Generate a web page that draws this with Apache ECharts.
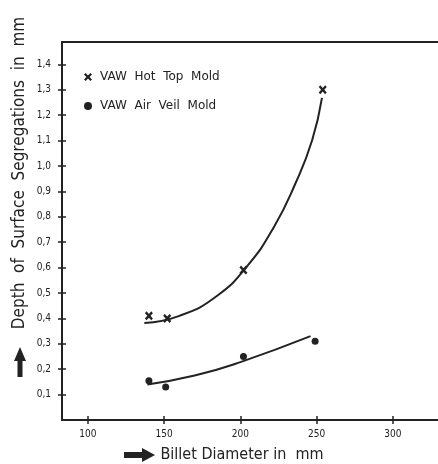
<!DOCTYPE html>
<html>
<head>
<meta charset="utf-8">
<script src="https://cdn.jsdelivr.net/npm/echarts@6/dist/echarts.min.js"></script>
<style>
  html, body {margin: 0; padding: 0; background: #fff;}
  #chart {width: 438px; height: 464px;}
</style>
</head>
<body>
<div id="chart"></div>
<script>
// measured points (billet diameter mm, segregation depth mm)
const hotTopX = [140, 152, 202, 254];
const hotTopY = [0.41, 0.40, 0.59, 1.30];
const airVeilX = [140, 151, 202, 249];
const airVeilY = [0.155, 0.13, 0.25, 0.31];

// hand-drawn fit curves
const hotTopCurveX = [137, 160, 185, 205, 222, 236, 247, 253.5];
const hotTopCurveY = [0.382, 0.41, 0.49, 0.61, 0.76, 0.93, 1.10, 1.268];
const airVeilCurveX = [139, 170, 200, 246];
const airVeilCurveY = [0.14, 0.175, 0.228, 0.33];

const xTicks = [100, 150, 200, 250, 300];
const yTicks = [0.1, 0.2, 0.3, 0.4, 0.5, 0.6, 0.7, 0.8, 0.9, 1.0, 1.1, 1.2, 1.3, 1.4];

const INK = "#222";
const CROSS = "path://M0,2L2,0L5,3L8,0L10,2L7,5L10,8L8,10L5,7L2,10L0,8L3,5Z";
const zip = (xs, ys) => xs.map((x, i) => [x, ys[i]]);

const chart = echarts.init(document.getElementById("chart"));
chart.setOption({
  animation: false,
  textStyle: {fontFamily: "DejaVu Sans", color: INK},
  grid: {left: 62, right: 0, top: 42, bottom: 44},
  legend: {
    orient: "vertical",
    left: 79,
    top: 66,
    itemGap: 17,
    itemWidth: 8,
    itemHeight: 8,
    textStyle: {fontSize: 12, color: INK, fontFamily: "DejaVu Sans", padding: [0, 0, 0, 3]},
    data: [
      {name: "VAW  Hot  Top  Mold", icon: CROSS},
      {name: "VAW  Air  Veil  Mold", icon: "circle"},
    ],
  },
  xAxis: [
    {
      type: "value", min: 83, max: 329.6,
      axisLine: {lineStyle: {color: INK, width: 2}},
      axisTick: {show: true, length: 4, customValues: xTicks, lineStyle: {color: INK, width: 1.5}},
      axisLabel: {customValues: xTicks, margin: 9, fontSize: 10, fontFamily: "DejaVu Sans Condensed", color: INK},
      splitLine: {show: false},
    },
    {
      type: "value", min: 83, max: 329.6, position: "bottom",
      axisLine: {show: false},
      axisTick: {show: true, inside: true, length: 4, customValues: xTicks, lineStyle: {color: INK, width: 1.5}},
      axisLabel: {show: false},
      splitLine: {show: false},
    },
    {
      type: "value", min: 83, max: 329.6, position: "top",
      axisLine: {lineStyle: {color: INK, width: 2}},
      axisTick: {show: false},
      axisLabel: {show: false},
      splitLine: {show: false},
    },
  ],
  yAxis: [
    {
      type: "value", min: 0, max: 1.488,
      axisLine: {show: true, lineStyle: {color: INK, width: 2}},
      axisTick: {show: true, length: 4, customValues: yTicks, lineStyle: {color: INK, width: 1.5}},
      axisLabel: {
        customValues: yTicks, margin: 11, fontSize: 10,
        fontFamily: "DejaVu Sans Condensed", color: INK,
        formatter: v => v.toFixed(1).replace(".", ","),
      },
      splitLine: {show: false},
    },
    {
      type: "value", min: 0, max: 1.488, position: "left",
      axisLine: {show: false},
      axisTick: {show: true, inside: true, length: 4, customValues: yTicks, lineStyle: {color: INK, width: 1.5}},
      axisLabel: {show: false},
      splitLine: {show: false},
    },
  ],
  series: [
    {
      name: "hot top curve", type: "line", smooth: 0.5, showSymbol: false,
      lineStyle: {color: INK, width: 2}, data: zip(hotTopCurveX, hotTopCurveY),
    },
    {
      name: "air veil curve", type: "line", smooth: 0.5, showSymbol: false,
      lineStyle: {color: INK, width: 2}, data: zip(airVeilCurveX, airVeilCurveY),
    },
    {
      name: "VAW  Hot  Top  Mold", type: "scatter", symbol: CROSS, symbolSize: [8, 9],
      itemStyle: {color: INK, opacity: 1}, data: zip(hotTopX, hotTopY),
    },
    {
      name: "VAW  Air  Veil  Mold", type: "scatter", symbol: "circle", symbolSize: 7,
      itemStyle: {color: INK, opacity: 1}, data: zip(airVeilX, airVeilY),
    },
  ],
  graphic: [
    {
      type: "text", x: 20, y: 173, rotation: Math.PI / 2,
      style: {
        text: "Depth  of  Surface  Segregations  in  mm",
        font: "17px 'DejaVu Sans Condensed'", fill: INK, align: "center", verticalAlign: "middle",
      },
    },
    {
      type: "polygon",
      shape: {points: [[20, 347], [26, 361], [22.5, 361], [22.5, 377], [17.5, 377], [17.5, 361], [14, 361]]},
      style: {fill: INK},
    },
    {
      type: "text", x: 242, y: 455,
      style: {
        text: "Billet Diameter in  mm",
        font: "16px 'DejaVu Sans Condensed'", fill: INK, align: "center", verticalAlign: "middle",
      },
    },
    {
      type: "polygon",
      shape: {points: [[124, 452], [142, 452], [142, 448], [155, 455], [142, 462], [142, 458], [124, 458]]},
      style: {fill: INK},
    },
  ],
});
</script>
</body>
</html>
